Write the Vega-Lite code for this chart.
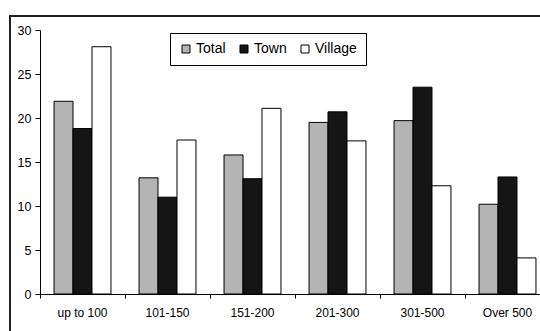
{
  "$schema": "https://vega.github.io/schema/vega-lite/v6.json",
  "width": 580,
  "height": 360,
  "autosize": "none",
  "padding": {"left": 10, "top": 16, "right": 0, "bottom": 0},
  "background": "white",
  "config": {
    "view": {"stroke": "#222", "strokeWidth": 2},
    "font": "Liberation Sans",
    "axis": {"grid": false, "domainColor": "#000", "tickColor": "#000", "labelColor": "#000", "labelFontSize": 12, "title": null}
  },
  "data": {
    "values": [
      {"group": "up to 100", "series": "Total", "value": 21.9},
      {"group": "up to 100", "series": "Town", "value": 18.8},
      {"group": "up to 100", "series": "Village", "value": 28.1},
      {"group": "101-150", "series": "Total", "value": 13.2},
      {"group": "101-150", "series": "Town", "value": 11.0},
      {"group": "101-150", "series": "Village", "value": 17.5},
      {"group": "151-200", "series": "Total", "value": 15.8},
      {"group": "151-200", "series": "Town", "value": 13.1},
      {"group": "151-200", "series": "Village", "value": 21.1},
      {"group": "201-300", "series": "Total", "value": 19.5},
      {"group": "201-300", "series": "Town", "value": 20.7},
      {"group": "201-300", "series": "Village", "value": 17.4},
      {"group": "301-500", "series": "Total", "value": 19.7},
      {"group": "301-500", "series": "Town", "value": 23.5},
      {"group": "301-500", "series": "Village", "value": 12.3},
      {"group": "Over 500", "series": "Total", "value": 10.2},
      {"group": "Over 500", "series": "Town", "value": 13.3},
      {"group": "Over 500", "series": "Village", "value": 4.1}
    ]
  },
  "mark": {"type": "bar", "stroke": "#000", "strokeWidth": 1},
  "encoding": {
    "x": {
      "field": "group", "type": "nominal",
      "sort": ["up to 100", "101-150", "151-200", "201-300", "301-500", "Over 500"],
      "scale": {"range": [30, 540], "paddingInner": 0, "paddingOuter": 0},
      "axis": {"orient": "bottom", "offset": -82, "labelAngle": 0, "tickSize": 4, "bandPosition": 0, "labelPadding": 9, "domainWidth": 1}
    },
    "xOffset": {
      "field": "series", "type": "nominal",
      "sort": ["Total", "Town", "Village"],
      "scale": {"paddingInner": 0, "paddingOuter": 0.74}
    },
    "y": {
      "field": "value", "type": "quantitative",
      "scale": {"domain": [0, 30], "range": [278, 14], "nice": false},
      "axis": {"orient": "left", "offset": -30, "values": [0, 5, 10, 15, 20, 25, 30], "tickSize": 5, "labelPadding": 4, "labelFontSize": 12.5}
    },
    "fill": {
      "field": "series", "type": "nominal",
      "sort": ["Total", "Town", "Village"],
      "scale": {"domain": ["Total", "Town", "Village"], "range": ["#b4b4b4", "#151515", "#ffffff"]},
      "legend": {
        "orient": "none", "legendX": 160, "legendY": 17, "direction": "horizontal", "title": null,
        "strokeColor": "#000", "padding": 9, "symbolType": "square", "symbolSize": 64,
        "symbolStrokeColor": "#000", "symbolStrokeWidth": 1, "labelFontSize": 14, "labelColor": "#000",
        "columnPadding": 11, "labelOffset": 3
      }
    }
  }
}
